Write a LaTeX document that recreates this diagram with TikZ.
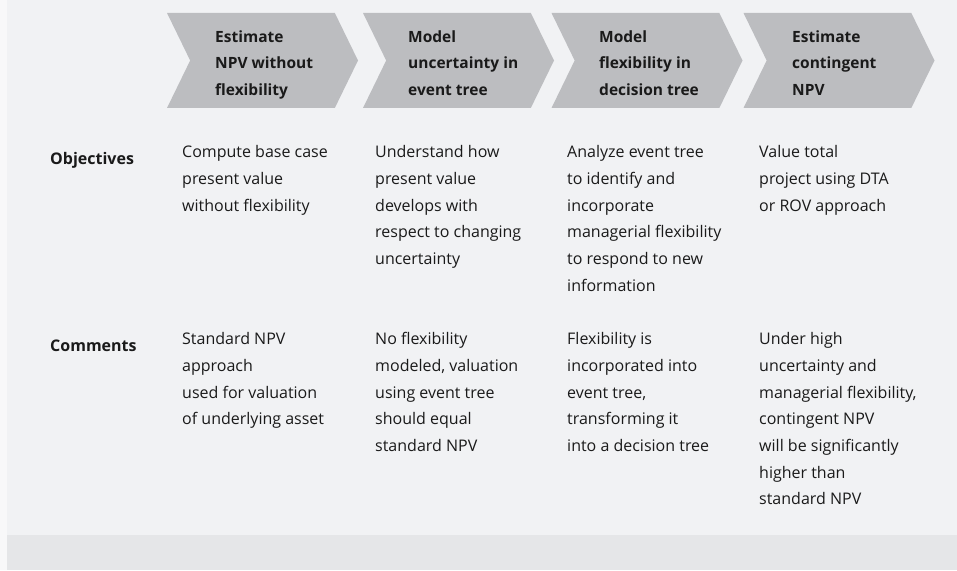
\documentclass[tikz,border=0pt]{standalone}
\usepackage{fontspec}
\setmainfont{Open Sans}
\usetikzlibrary{shapes.symbols,positioning}
\definecolor{PageWhite} {RGB}{248,248,249}
\definecolor{PanelGray} {RGB}{241,242,244}
\definecolor{BandGray}  {RGB}{229,230,232}
\definecolor{ChevGray}  {RGB}{188,189,192}
\definecolor{InkBlack}  {RGB}{ 26, 26, 26}
\tikzset{
  %% step chevrons
  chevbox/.style={signal,signal from=west,signal to=east,
                  signal pointer angle=128,fill=ChevGray,draw=none,
                  minimum width=191pt,minimum height=95pt,inner sep=0pt},
  headtxt/.style={anchor=north west,align=left,inner sep=0pt,text=InkBlack,
                  font=\fontsize{15.5}{26.5}\selectfont\bfseries,
                  execute at begin node=\strut},
  %% table text
  celltxt/.style={anchor=north west,align=left,inner sep=0pt,text=InkBlack,
                  font=\fontsize{16}{26.7}\selectfont,
                  execute at begin node=\strut},
  rowlbl/.style={celltxt,font=\fontsize{16}{26.7}\selectfont\bfseries},
}
\begin{document}
\begin{tikzpicture}[x=1pt,y=1pt]
    %% background
    \fill[PageWhite] (0,0) rectangle (957,570);
    \fill[PanelGray] (7,35) rectangle (957,570);
    \fill[BandGray]  (7,0) rectangle (957,35);
    \useasboundingbox (0,0) rectangle (957,570);

    %% chevrons (top row)
    \node[chevbox] (C1) at (262.5,509.5) {};
    \node[chevbox] (C2) at (458.5,509.5) {};
    \node[chevbox] (C3) at (647,509.5)   {};
    \node[chevbox] (C4) at (839,509.5)   {};

    \node[headtxt] (H1) at (215,539.6) {Estimate\\NPV without\\flexibility};
    \node[headtxt] (H2) at (408,539.6) {Model\\uncertainty in\\event tree};
    \node[headtxt] (H3) at (599,539.6) {Model\\flexibility in\\decision tree};
    \node[headtxt] (H4) at (792,539.6) {Estimate\\contingent\\NPV};

    %% Objectives row
    \node[rowlbl]  (OBJ) at (50,424.7)  {Objectives};
    \node[celltxt] (O1)  at (182,424.7) {Compute base case\\present value\\without flexibility};
    \node[celltxt] (O2)  at (375,424.7) {Understand how\\present value\\develops with\\respect to changing\\uncertainty};
    \node[celltxt] (O3)  at (567,424.7) {Analyze event tree\\to identify and\\incorporate\\managerial flexibility\\to respond to new\\information};
    \node[celltxt] (O4)  at (759,424.7) {Value total\\project using DTA\\or ROV approach};

    %% Comments row
    \node[rowlbl]  (COM) at (50,237.7)  {Comments};
    \node[celltxt] (M1)  at (182,237.7) {Standard NPV\\approach\\used for valuation\\of underlying asset};
    \node[celltxt] (M2)  at (375,237.7) {No flexibility\\modeled, valuation\\using event tree\\should equal\\standard NPV};
    \node[celltxt] (M3)  at (567,237.7) {Flexibility is\\incorporated into\\event tree,\\transforming it\\into a decision tree};
    \node[celltxt] (M4)  at (759,237.7) {Under high\\uncertainty and\\managerial flexibility,\\contingent NPV\\will be significantly\\higher than\\standard NPV};
\end{tikzpicture}
\end{document}
